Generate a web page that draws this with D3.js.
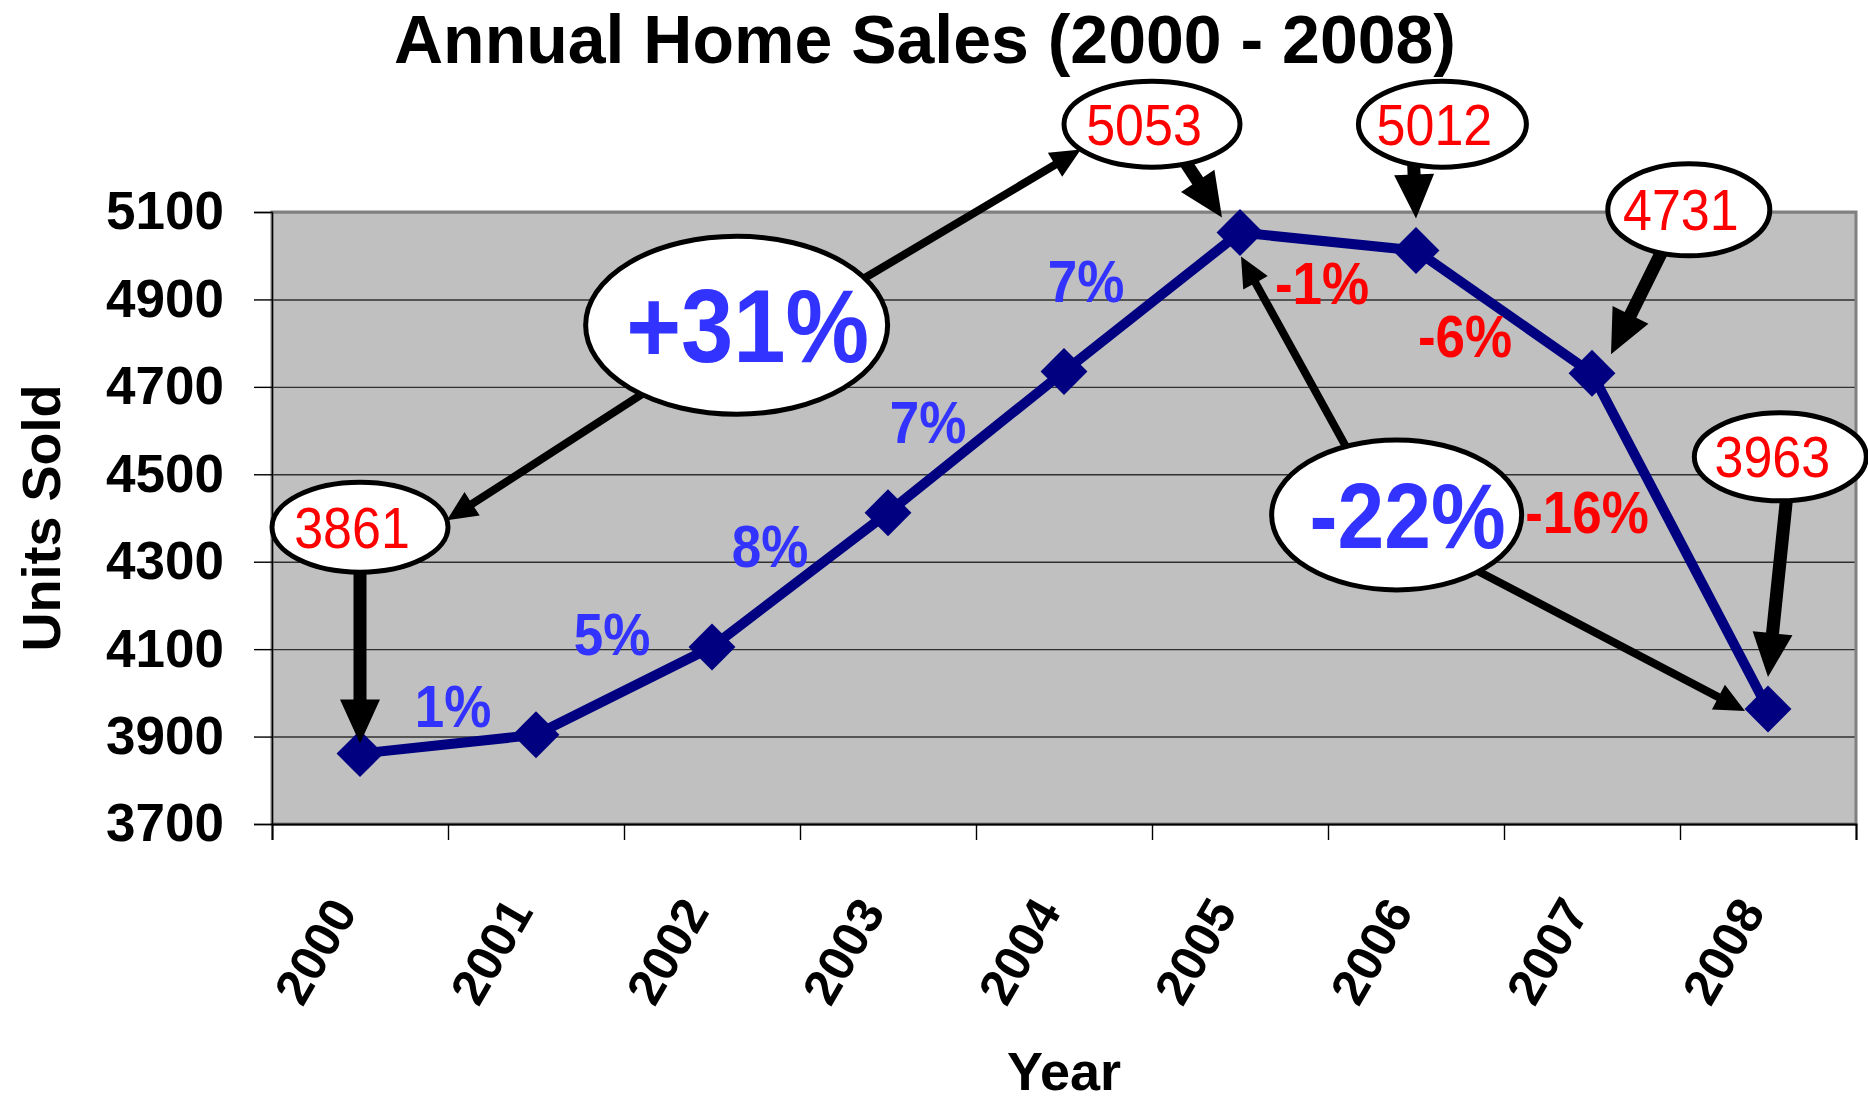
<!DOCTYPE html>
<html>
<head>
<meta charset="utf-8">
<script src="https://cdn.jsdelivr.net/npm/d3@7"></script>
<style>
  body { margin: 0; background: #fff; }
  svg text { font-family: 'Liberation Sans', Arial, sans-serif; }
</style>
</head>
<body>
<div id="home_sales"></div>
<script>
// Data
const years = ['2000', '2001', '2002', '2003', '2004', '2005', '2006', '2007', '2008'];
const unitsSold = [3861, 3904, 4105, 4412, 4735, 5053, 5012, 4731, 3963];
const yearChanges = ['1%', '5%', '8%', '7%', '7%', '-1%', '-6%', '-16%'];
const totalChanges = ['+31%', '-22%'];
const yTicks = [3700, 3900, 4100, 4300, 4500, 4700, 4900, 5100];

const drawHomeSales = () => {
  let margin = { top: 212, right: 12, bottom: 280, left: 272 };
  let width = 1868;
  let height = 1104;
  let chartWidth = width - margin.left - margin.right;
  let chartHeight = height - margin.top - margin.bottom;

  // the original lettering is a little taller than plain Arial
  let stretch = 1.1;

  let root = d3
    .select('#home_sales')
    .append('svg')
    .attr('width', width)
    .attr('height', height);

  root.append('rect').attr('width', width).attr('height', height).attr('fill', '#fff');

  let svg = root
    .append('g')
    .attr('transform', 'translate(' + margin.left + ',' + margin.top + ')');

  // Scales
  let xPositionScale = d3.scalePoint().domain(years).range([0, chartWidth]).padding(0.5);
  // category index -> pixel, used for ticks between years and for placing the notes
  let xIndexScale = d3
    .scaleLinear()
    .domain([-0.5, years.length - 0.5])
    .range([0, chartWidth]);
  let yPositionScale = d3.scaleLinear().domain([3700, 5100]).range([chartHeight, 0]);

  let blue = '#3333ff';
  let red = '#ff0000';
  let navy = '#000080';

  // Plot area
  svg
    .append('rect')
    .attr('width', chartWidth)
    .attr('height', chartHeight)
    .attr('fill', '#c0c0c0');

  let grid = svg
    .append('g')
    .attr('class', 'grid')
    .call(d3.axisLeft(yPositionScale).tickValues(yTicks).tickSize(-chartWidth).tickFormat(''));
  grid.select('.domain').remove();
  grid.selectAll('line').attr('stroke', '#303030').attr('stroke-width', 1.4);

  svg
    .append('rect')
    .attr('width', chartWidth)
    .attr('height', chartHeight)
    .attr('fill', 'none')
    .attr('stroke', '#808080')
    .attr('stroke-width', 3);

  // Axes
  let yAxis = svg
    .append('g')
    .attr('class', 'axis y-axis')
    .call(
      d3
        .axisLeft(yPositionScale)
        .tickValues(yTicks)
        .tickFormat(d3.format('d'))
        .tickSize(18)
        .tickPadding(30)
    );
  yAxis.selectAll('line').attr('stroke', '#000').attr('stroke-width', 1.4);
  yAxis.select('.domain').attr('stroke', '#000').attr('stroke-width', 1.4);
  yAxis
    .selectAll('text')
    .attr('font-size', 53)
    .attr('font-weight', 'bold')
    .attr('font-family', "'Liberation Sans', Arial, sans-serif")
    .attr('fill', '#000');

  let xAxis = svg
    .append('g')
    .attr('class', 'axis x-axis')
    .attr('transform', `translate(0, ${chartHeight})`)
    .call(
      d3
        .axisBottom(xIndexScale)
        .tickValues(d3.range(-0.5, years.length, 1))
        .tickSize(16)
        .tickFormat('')
    );
  xAxis.selectAll('line').attr('stroke', '#000').attr('stroke-width', 1.4);
  xAxis.select('.domain').attr('stroke', '#000').attr('stroke-width', 2);

  svg
    .selectAll('.year-label')
    .data(years)
    .enter()
    .append('text')
    .attr('class', 'year-label')
    .attr('transform', (d) => `translate(${xPositionScale(d) - 17}, ${chartHeight + 79}) rotate(-60)`)
    .attr('text-anchor', 'end')
    .attr('dy', '0.35em')
    .attr('font-size', 50)
    .attr('font-weight', 'bold')
    .text((d) => d);

  // Titles
  root
    .append('text')
    .attr('x', 925)
    .attr('y', 63)
    .attr('text-anchor', 'middle')
    .attr('font-size', 68)
    .attr('font-weight', 'bold')
    .text('Annual Home Sales (2000 - 2008)');

  root
    .append('text')
    .attr('x', margin.left + chartWidth / 2)
    .attr('y', 1090)
    .attr('text-anchor', 'middle')
    .attr('font-size', 54)
    .attr('font-weight', 'bold')
    .text('Year');

  root
    .append('text')
    .attr('transform', `translate(60, ${margin.top + chartHeight / 2}) rotate(-90)`)
    .attr('text-anchor', 'middle')
    .attr('font-size', 54)
    .attr('font-weight', 'bold')
    .text('Units Sold');

  // Series
  let points = years.map((year, i) => ({ year: year, units: unitsSold[i] }));
  let px = (d) => xPositionScale(d.year);
  let py = (d) => yPositionScale(d.units);

  let line = d3.line().x(px).y(py);

  svg
    .append('path')
    .datum(points)
    .attr('fill', 'none')
    .attr('stroke', navy)
    .attr('stroke-width', 10)
    .attr('stroke-linejoin', 'round')
    .attr('d', line);

  svg
    .selectAll('.dot')
    .data(points)
    .enter()
    .append('path')
    .attr('class', 'dot')
    .attr('d', d3.symbol().type(d3.symbolSquare).size(1100))
    .attr('transform', (d) => `translate(${px(d)}, ${py(d)}) rotate(45)`)
    .attr('fill', navy);

  // Year-on-year change labels, offset from the middle of each segment
  let changeOffsets = [[5, -38], [-12, -56], [-30, -33], [-48, -20], [-66, -20], [-6, 42], [-39, 25], [-93, -29]];
  svg
    .selectAll('.change-label')
    .data(yearChanges)
    .enter()
    .append('text')
    .attr('class', 'change-label')
    .attr('transform', (d, i) => {
      let x = (px(points[i]) + px(points[i + 1])) / 2 + changeOffsets[i][0];
      let y = (py(points[i]) + py(points[i + 1])) / 2 + changeOffsets[i][1];
      return `translate(${x}, ${y}) scale(1, ${stretch})`;
    })
    .attr('dy', '0.35em')
    .attr('text-anchor', 'middle')
    .attr('font-size', 53)
    .attr('font-weight', 'bold')
    .attr('fill', (d) => (d.startsWith('-') ? red : blue))
    .text((d) => d);

  // Callout bubbles: position as (category index, units)
  let valueNotes = [
    { year: '2000', at: [0, 4379], rx: 88, ry: 45, exit: 90, tip: [0, -10] },
    { year: '2005', at: [4.5, 5301], rx: 88, ry: 43, exit: 67, tip: [-18, -15] },
    { year: '2006', at: [6.15, 5301], rx: 84, ry: 43, exit: 110, tip: [0, -32] },
    { year: '2007', at: [7.55, 5105], rx: 81, ry: 46, exit: 110, tip: [19, -19] },
    { year: '2008', at: [8.07, 4540], rx: 86, ry: 44, exit: 86, tip: [0, -32] }
  ];
  let totalNotes = [
    {
      text: totalChanges[0], at: [2.14, 4841], rx: 151, ry: 89, size: 94,
      arrows: [{ exit: -32, toNote: 1, angle: 144 }, { exit: 129, toNote: 0, angle: -9 }]
    },
    {
      text: totalChanges[1], at: [5.89, 4407], rx: 125, ry: 75, size: 84,
      arrows: [{ exit: 246, toYear: '2005', tip: [1, 24] }, { exit: 49, toYear: '2008', tip: [-23, 2] }]
    }
  ];

  let centre = (n) => [xIndexScale(n.at[0]), yPositionScale(n.at[1])];
  let rim = (n, deg) => {
    let c = centre(n);
    let a = (deg * Math.PI) / 180;
    return [c[0] + n.rx * Math.cos(a), c[1] + n.ry * Math.sin(a)];
  };
  let pointOf = (year) => points[years.indexOf(year)];

  let arrowShape = d3.line();
  function arrowPath(from, to, shaft, headW, headL) {
    let dx = to[0] - from[0];
    let dy = to[1] - from[1];
    let len = Math.hypot(dx, dy);
    let ux = dx / len;
    let uy = dy / len;
    let nx = -uy;
    let ny = ux;
    let bx = to[0] - ux * headL;
    let by = to[1] - uy * headL;
    return (
      arrowShape([
        [from[0] + (nx * shaft) / 2, from[1] + (ny * shaft) / 2],
        [bx + (nx * shaft) / 2, by + (ny * shaft) / 2],
        [bx + (nx * headW) / 2, by + (ny * headW) / 2],
        to,
        [bx - (nx * headW) / 2, by - (ny * headW) / 2],
        [bx - (nx * shaft) / 2, by - (ny * shaft) / 2],
        [from[0] - (nx * shaft) / 2, from[1] - (ny * shaft) / 2]
      ]) + 'Z'
    );
  }

  let arrows = [];
  valueNotes.forEach((n) => {
    let p = pointOf(n.year);
    arrows.push({
      d: arrowPath(rim(n, n.exit), [px(p) + n.tip[0], py(p) + n.tip[1]], 13, 40, 44)
    });
  });
  totalNotes.forEach((n) => {
    n.arrows.forEach((a) => {
      let end;
      if (a.toYear) {
        let p = pointOf(a.toYear);
        end = [px(p) + a.tip[0], py(p) + a.tip[1]];
      } else {
        end = rim(valueNotes[a.toNote], a.angle);
      }
      arrows.push({ d: arrowPath(rim(n, a.exit), end, 8, 28, 30) });
    });
  });

  svg
    .selectAll('.arrow')
    .data(arrows)
    .enter()
    .append('path')
    .attr('class', 'arrow')
    .attr('d', (d) => d.d)
    .attr('fill', '#000');

  let valueBubbles = svg
    .selectAll('.value-note')
    .data(valueNotes)
    .enter()
    .append('g')
    .attr('class', 'value-note')
    .attr('transform', (d) => `translate(${centre(d)})`);

  valueBubbles
    .append('ellipse')
    .attr('rx', (d) => d.rx)
    .attr('ry', (d) => d.ry)
    .attr('fill', '#fff')
    .attr('stroke', '#000')
    .attr('stroke-width', 5);

  valueBubbles
    .append('text')
    .attr('transform', `translate(-8, 0) scale(1, ${stretch})`)
    .attr('text-anchor', 'middle')
    .attr('dy', '0.36em')
    .attr('font-size', 52)
    .attr('fill', red)
    .text((d) => pointOf(d.year).units);

  let totalBubbles = svg
    .selectAll('.total-note')
    .data(totalNotes)
    .enter()
    .append('g')
    .attr('class', 'total-note')
    .attr('transform', (d) => `translate(${centre(d)})`);

  totalBubbles
    .append('ellipse')
    .attr('rx', (d) => d.rx)
    .attr('ry', (d) => d.ry)
    .attr('fill', '#fff')
    .attr('stroke', '#000')
    .attr('stroke-width', 5);

  totalBubbles
    .append('text')
    .attr('transform', `translate(11, 0) scale(1, ${stretch})`)
    .attr('text-anchor', 'middle')
    .attr('dy', '0.36em')
    .attr('font-size', (d) => d.size)
    .attr('font-weight', 'bold')
    .attr('fill', blue)
    .text((d) => d.text);
};

drawHomeSales();
</script>
</body>
</html>
